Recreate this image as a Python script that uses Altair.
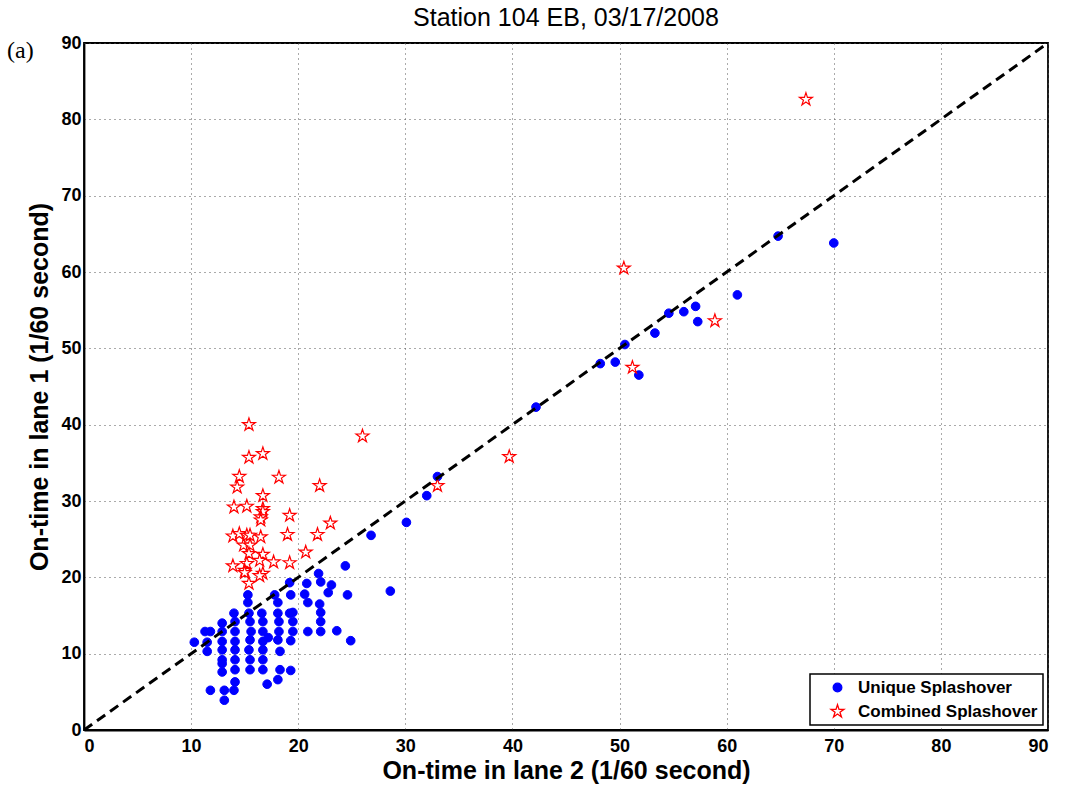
import altair as alt
import pandas as pd

# Unique Splashover (blue dots)
unique_x = [10.3, 11.3, 11.8, 11.5, 11.5, 11.8,
            12.9, 12.9, 12.9, 12.9, 12.9, 12.9, 12.9, 13.1, 13.1,
            14.0, 14.1, 14.1, 14.1, 14.1, 14.1, 14.1, 14.1, 14.0,
            15.3, 15.3, 15.4, 15.5, 15.6, 15.5, 15.4, 15.5, 15.5,
            16.6, 16.7, 16.7, 16.7, 16.7, 16.7, 16.7, 17.1, 17.2,
            17.8, 18.1, 18.1, 18.2, 18.2, 18.1, 18.3, 18.3, 18.1,
            19.2, 19.3, 19.2, 19.5, 19.5, 19.5, 19.3, 19.3,
            20.8, 20.6, 20.9, 20.9, 21.9, 22.1, 22.0, 22.1, 22.1, 22.1,
            23.1, 22.8, 23.6, 24.4, 24.6, 24.9,
            26.8, 28.6, 30.1, 32.0, 33.0, 42.2, 48.2, 49.6, 50.5, 51.8,
            53.3, 54.6, 56.0, 57.1, 57.3, 61.0, 64.8, 70.0]
unique_y = [11.5, 12.9, 12.9, 11.5, 10.3, 5.2,
            14.0, 12.9, 11.6, 10.5, 9.2, 8.7, 7.6, 5.2, 3.9,
            15.3, 14.2, 12.9, 11.6, 10.5, 9.2, 7.9, 6.3, 5.2,
            17.7, 16.7, 15.3, 14.2, 12.9, 11.8, 10.5, 9.2, 7.9,
            15.3, 14.2, 12.9, 11.6, 10.5, 9.2, 7.9, 6.0, 12.1,
            17.7, 16.7, 15.3, 14.2, 12.9, 11.8, 10.3, 7.9, 6.6,
            19.3, 17.7, 15.3, 15.4, 14.2, 12.9, 11.7, 7.8,
            19.2, 17.8, 16.7, 12.9, 20.5, 19.4, 16.5, 15.4, 14.2, 12.9,
            19.0, 18.0, 13.0, 21.5, 17.7, 11.7,
            25.5, 18.2, 27.2, 30.7, 33.2, 42.3, 48.0, 48.2, 50.5, 46.5,
            52.0, 54.6, 54.8, 55.5, 53.5, 57.0, 64.7, 63.8]

# Combined Splashover (red stars)
combined_x = [15.4, 15.4, 16.7, 14.5, 14.3, 18.2, 16.7, 14.0, 15.2, 16.7,
              16.7, 16.5, 16.5, 19.2, 13.9, 14.5, 15.2, 15.5, 16.5, 19.0,
              14.9, 15.5, 15.4, 16.7, 16.4, 17.7, 19.2, 15.2, 13.9, 15.0,
              15.0, 16.7, 16.4, 15.4, 22.0, 23.0, 21.8, 20.7, 26.0, 33.0,
              39.7, 50.4, 51.2, 58.9, 67.4]
combined_y = [40.0, 35.7, 36.2, 33.2, 31.8, 33.1, 30.7, 29.2, 29.3, 29.0,
              28.6, 27.9, 27.5, 28.1, 25.4, 25.7, 25.5, 25.5, 25.3, 25.6,
              24.2, 24.2, 23.1, 23.0, 22.2, 22.0, 21.9, 21.8, 21.5, 20.9,
              20.6, 20.5, 20.2, 19.2, 32.0, 27.1, 25.6, 23.3, 38.5, 32.0,
              35.8, 60.5, 47.5, 53.6, 82.6]

series_names = ["Unique Splashover", "Combined Splashover"]
ticks = list(range(0, 91, 10))

STAR = ("M0,-1L0.2245,-0.309L0.9511,-0.309L0.3633,0.118L0.5878,0.809"
        "L0,0.382L-0.5878,0.809L-0.3633,0.118L-0.9511,-0.309L-0.2245,-0.309Z")

df_u = pd.DataFrame({"x": unique_x, "y": unique_y, "s": series_names[0]})
df_c = pd.DataFrame({"x": combined_x, "y": combined_y, "s": series_names[1]})
diag = pd.DataFrame({"x": [0, 90], "y": [0, 90]})

xs = alt.Scale(domain=[0, 90], nice=False, zero=False)
ys = alt.Scale(domain=[0, 90], nice=False, zero=False)

xaxis = alt.Axis(values=ticks, title="On-time in lane 2 (1/60 second)", grid=True,
                 ticks=False, labelPadding=7, titlePadding=3)
yaxis = alt.Axis(values=ticks, title="On-time in lane 1 (1/60 second)", grid=True,
                 ticks=False, labelPadding=3, titlePadding=8)

leg = alt.Legend(title=None)
shape_enc = alt.Shape("s:N", scale=alt.Scale(domain=series_names, range=["circle", STAR]), legend=leg)
fill_enc = alt.Fill("s:N", scale=alt.Scale(domain=series_names, range=["#0000ff", "#ffffff"]), legend=leg)
stroke_enc = alt.Stroke("s:N", scale=alt.Scale(domain=series_names, range=["#0000ff", "#ff0000"]), legend=leg)
size_enc = alt.Size("s:N", scale=alt.Scale(domain=series_names, range=[75, 185]), legend=leg)

blue = alt.Chart(df_u).mark_point(strokeWidth=1, opacity=1).encode(
    x=alt.X("x:Q", scale=xs, axis=xaxis),
    y=alt.Y("y:Q", scale=ys, axis=yaxis),
    shape=shape_enc, fill=fill_enc, stroke=stroke_enc, size=size_enc,
)
red = alt.Chart(df_c).mark_point(strokeWidth=1.2, opacity=1).encode(
    x=alt.X("x:Q", scale=xs),
    y=alt.Y("y:Q", scale=ys),
    shape=shape_enc, fill=fill_enc, stroke=stroke_enc, size=size_enc,
)

line = alt.Chart(diag).mark_line(color="black", strokeWidth=3, strokeDash=[10, 6]).encode(
    x=alt.X("x:Q", scale=xs), y=alt.Y("y:Q", scale=ys)
)

label = alt.Chart(pd.DataFrame({"t": ["(a)"]})).mark_text(
    font="Liberation Serif", fontSize=24, align="left", baseline="middle", color="black"
).encode(x=alt.value(-77), y=alt.value(8), text="t:N")

chart = alt.layer(blue, red, line, label).properties(
    width=964, height=687,
    title=alt.TitleParams("Station 104 EB, 03/17/2008", font="Liberation Sans",
                          fontSize=25, fontWeight="normal", offset=3, color="black"),
    autosize=alt.AutoSizeParams(type="none"),
    padding={"left": 84, "top": 43, "right": 20, "bottom": 56},
).configure_view(stroke="black", strokeWidth=1.8).configure_axis(
    labelFont="Liberation Sans", labelFontSize=18, labelFontWeight="bold", labelColor="black",
    titleFont="Liberation Sans", titleFontSize=25, titleFontWeight="bold", titleColor="black",
    domainColor="black", domainWidth=1.8,
    gridColor="#555555", gridDash=[1, 4], gridWidth=1,
).configure_legend(
    orient="bottom-right", offset=5, strokeColor="black", strokeWidth=1.5, fillColor="white",
    padding=5, labelFont="Liberation Sans", labelFontSize=17, labelFontWeight="bold",
    labelColor="black", symbolStrokeWidth=1.3, rowPadding=6, symbolOffset=14, labelOffset=12,
    labelLimit=400,
)

chart.save("out.html", embed_options={"renderer": "svg", "actions": False})
